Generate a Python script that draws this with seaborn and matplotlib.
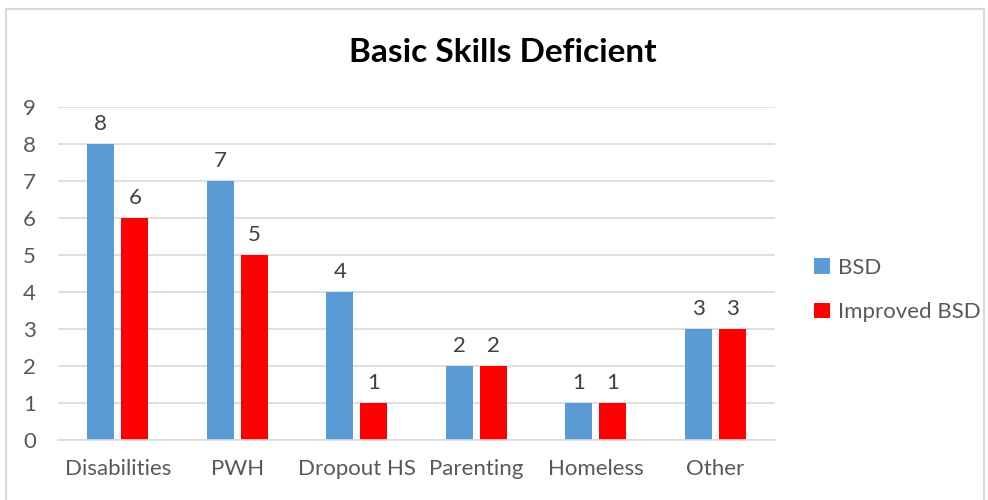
import pandas as pd
import seaborn as sns
import matplotlib.pyplot as plt
from matplotlib.patches import Rectangle

categories = ['Disabilities', 'PWH', 'Dropout HS', 'Parenting', 'Homeless', 'Other']
bsd = [8, 7, 4, 2, 1, 3]
improved_bsd = [6, 5, 1, 2, 1, 3]
series_names = ['BSD', 'Improved BSD']
colors = ['#5B9BD5', '#FF0000']

df = pd.DataFrame({
    'category': categories * 2,
    'value': bsd + improved_bsd,
    'series': [series_names[0]] * len(categories) + [series_names[1]] * len(categories),
})

sns.set_style('white')
plt.rcParams['font.family'] = ['Lato', 'DejaVu Sans']
text_color = '#595959'
grid_color = '#D9D9D9'

fig = plt.figure(figsize=(9.88, 5.0), dpi=100)
ax = fig.add_axes([58 / 988, 60 / 500, 717 / 988, 333 / 500])

sns.barplot(data=df, x='category', y='value', hue='series', order=categories,
            hue_order=series_names, palette=colors, width=0.57, gap=0.22,
            saturation=1, linewidth=0, ax=ax, legend=True)

for container in ax.containers:
    ax.bar_label(container, padding=7, fontsize=16, color='#404040')

ax.set_ylim(0, 9)
ax.set_yticks(range(10))
ax.set_xlim(-0.5, len(categories) - 0.5)
ax.yaxis.grid(True, color=grid_color, linewidth=1.2)
ax.set_axisbelow(True)
for side in ['top', 'right', 'left']:
    ax.spines[side].set_visible(False)
ax.spines['bottom'].set_color(grid_color)
ax.spines['bottom'].set_linewidth(1.2)
ax.tick_params(axis='both', length=0, labelsize=16, labelcolor=text_color)
ax.tick_params(axis='y', pad=16)
ax.tick_params(axis='x', pad=14)
ax.set_xlabel('')
ax.set_ylabel('')

fig.suptitle('Basic Skills Deficient', x=503 / 988, y=1 - 53 / 500, va='center',
             fontsize=24, fontweight='bold', color='black')

handles, labels = ax.get_legend_handles_labels()
ax.legend(handles, labels, loc='center left', bbox_to_anchor=(814 / 988, 1 - 290 / 500),
          bbox_transform=fig.transFigure, frameon=False, fontsize=16,
          labelcolor=text_color, handlelength=0.7, handleheight=0.7,
          handletextpad=0.4, labelspacing=1.1, borderpad=0, borderaxespad=0)

fig.patches.append(Rectangle((6 / 988, -0.05), 978 / 988, 1.05 - 9 / 500,
                             transform=fig.transFigure, fill=False,
                             edgecolor='#D9D9D9', linewidth=1.5))

fig.savefig('out.png', dpi=100)
